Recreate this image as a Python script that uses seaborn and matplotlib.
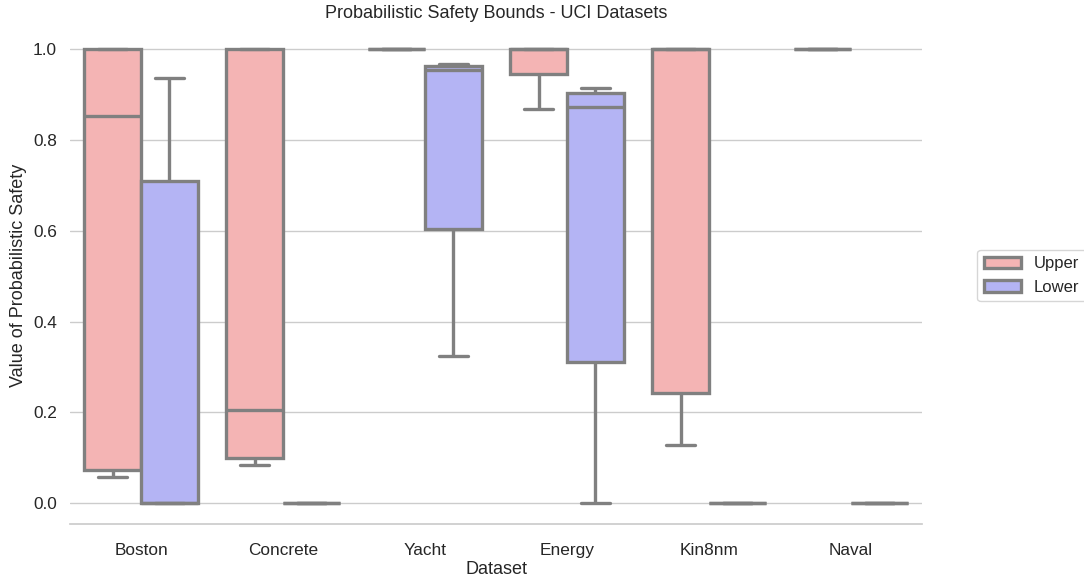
import numpy as np
import pandas as pd
import matplotlib
matplotlib.use("Agg")
import matplotlib.pyplot as plt
import seaborn as sns

datasets = ["Boston", "Concrete", "Yacht", "Energy", "Kin8nm", "Naval"]
bounds = ["Upper", "Lower"]

# five-number summaries (min, q1, median, q3, max)
upper_vals = {
    "Boston":   [0.057, 0.073, 0.854, 1.0, 1.0],
    "Concrete": [0.084, 0.100, 0.205, 1.0, 1.0],
    "Yacht":    [1.0, 1.0, 1.0, 1.0, 1.0],
    "Energy":   [0.868, 0.946, 1.0, 1.0, 1.0],
    "Kin8nm":   [0.128, 0.243, 1.0, 1.0, 1.0],
    "Naval":    [1.0, 1.0, 1.0, 1.0, 1.0],
}
lower_vals = {
    "Boston":   [0.0, 0.0, 0.0, 0.711, 0.938],
    "Concrete": [0.0, 0.0, 0.0, 0.0, 0.0],
    "Yacht":    [0.325, 0.605, 0.954, 0.963, 0.968],
    "Energy":   [0.0, 0.312, 0.874, 0.904, 0.914],
    "Kin8nm":   [0.0, 0.0, 0.0, 0.0, 0.0],
    "Naval":    [0.0, 0.0, 0.0, 0.0, 0.0],
}

rows = []
for d in datasets:
    for v in upper_vals[d]:
        rows.append((d, "Upper", v))
    for v in lower_vals[d]:
        rows.append((d, "Lower", v))
df = pd.DataFrame(rows, columns=["Dataset", "Bound", "Value"])

sns.set_theme(style="whitegrid")
plt.rcParams['font.family'] = ['Liberation Sans', 'DejaVu Sans']

fig = plt.figure(figsize=(10.84, 5.82), dpi=100)
ax = fig.add_axes([0.0646, 0.0997, 0.786, 0.8543])

palette = {"Upper": "#F4B4B4", "Lower": "#B4B4F4"}
sns.boxplot(data=df, x="Dataset", y="Value", hue="Bound", order=datasets,
            hue_order=bounds, palette=palette, saturation=1, whis=(0, 100),
            linecolor="#808080", linewidth=2.4, width=0.8, ax=ax)

sns.despine(ax=ax, left=True)
ax.spines['bottom'].set_color('#cccccc')
ax.set_ylim(-0.046, 1.05)
ax.set_yticks([0.0, 0.2, 0.4, 0.6, 0.8, 1.0])
ax.set_xlabel("Dataset", fontsize=13, labelpad=2)
ax.set_ylabel("Value of Probabilistic Safety", fontsize=13, labelpad=4)
ax.tick_params(labelsize=12.4)
ax.tick_params(axis='x', pad=8)
ax.set_title("Probabilistic Safety Bounds - UCI Datasets", fontsize=13, pad=6)
ax.legend(loc="center left", bbox_to_anchor=(1.065, 0.5), borderaxespad=0,
          fontsize=12, title=None, handlelength=2.2)

fig.savefig("out.png", dpi=100)
